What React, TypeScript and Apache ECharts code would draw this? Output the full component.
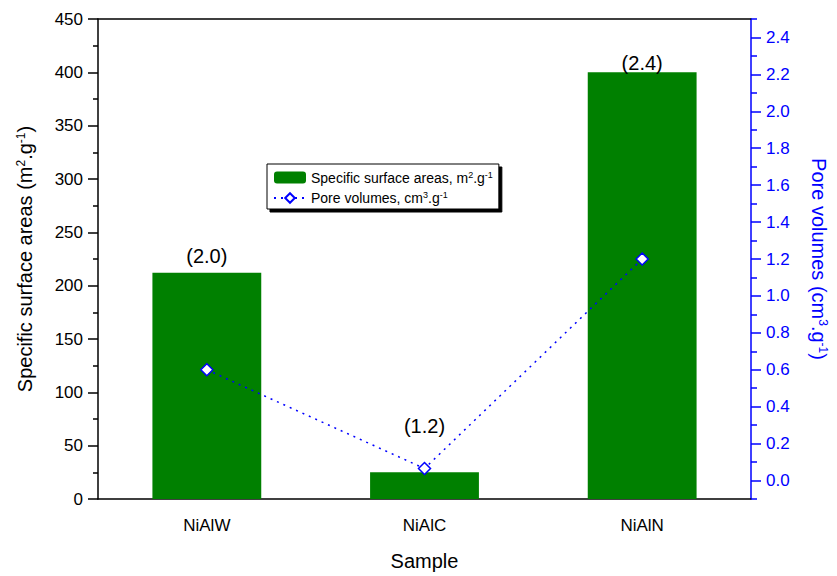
import React, { useEffect, useRef } from "react";
import * as echarts from "echarts";

const categories = ["NiAlW", "NiAlC", "NiAlN"];
const surfaceAreas = [212, 25, 400];
const poreVolumes = [0.6, 0.065, 1.2];
const annotationTexts = ["(2.0)", "(1.2)", "(2.4)"];
const annotationLevels = [228, 68.7, 409];
const leftTicks = [0, 50, 100, 150, 200, 250, 300, 350, 400, 450];
const rightMajor = [0, 0.2, 0.4, 0.6, 0.8, 1.0, 1.2, 1.4, 1.6, 1.8, 2.0, 2.2, 2.4];
const rightMinor = [-0.1, 0.1, 0.3, 0.5, 0.7, 0.9, 1.1, 1.3, 1.5, 1.7, 1.9, 2.1, 2.3, 2.5];

const FONT = "'Liberation Sans', Arial, sans-serif";

export default function App() {
  const ref = useRef<HTMLDivElement>(null);
  useEffect(() => {
    document.body.style.margin = "0";
    document.body.style.overflow = "hidden";
    if (!ref.current) return;
    const chart = echarts.init(ref.current, null, { renderer: "svg" });
    const sup = { fontSize: 12, verticalAlign: "top", fontFamily: FONT };
    chart.setOption({
      animation: false,
      textStyle: { fontFamily: FONT },
      grid: { left: 98, right: 85, top: 19, bottom: 72, containLabel: false },
      legend: {
        show: true,
        left: 267,
        top: 164,
        orient: "vertical",
        itemGap: 6,
        itemWidth: 32,
        itemHeight: 12,
        padding: [6, 6, 4, 6],
        borderColor: "#000",
        borderWidth: 1,
        backgroundColor: "#fff",
        shadowColor: "#000",
        shadowOffsetX: 3,
        shadowOffsetY: 3,
        shadowBlur: 0,
        textStyle: {
          fontSize: 14,
          color: "#000",
          fontFamily: FONT,
          rich: {
            t: { fontSize: 14, color: "#000", fontFamily: FONT },
            sup: { fontSize: 9, verticalAlign: "top", fontFamily: FONT, color: "#000", padding: [0, 0, 6, 0] },
          },
        },
        formatter: (name: string) =>
          name === "surface"
            ? "{t|Specific surface areas, m}{sup|2}{t|.g}{sup|-1}"
            : "{t|Pore volumes, cm}{sup|3}{t|.g}{sup|-1}",
        data: ["surface", "pore"],
      },
      xAxis: [
        {
          type: "category",
          data: categories,
          boundaryGap: true,
          axisLine: { onZero: false, lineStyle: { color: "#000", width: 1.5 } },
          axisTick: { alignWithLabel: true, length: 10, lineStyle: { color: "#000", width: 1.5 } },
          axisLabel: { fontSize: 17, color: "#000", margin: 18, fontFamily: FONT },
          name: "Sample",
          nameLocation: "middle",
          nameGap: 52,
          nameTextStyle: { fontSize: 20, color: "#000", fontFamily: FONT },
          splitLine: { show: false },
        },
        {
          type: "category",
          data: categories,
          position: "bottom",
          boundaryGap: true,
          axisLine: { show: false, onZero: false },
          axisTick: { alignWithLabel: false, length: 6, lineStyle: { color: "#000", width: 1.5 } },
          axisLabel: { show: false },
          splitLine: { show: false },
        },
        {
          type: "category",
          data: categories,
          position: "top",
          axisLine: { show: true, onZero: false, lineStyle: { color: "#000", width: 1.5 } },
          axisTick: { show: false },
          axisLabel: { show: false },
          splitLine: { show: false },
        },
      ],
      yAxis: [
        {
          type: "value",
          min: 0,
          max: 450,
          interval: 50,
          position: "left",
          axisLine: { show: true, onZero: false, lineStyle: { color: "#000", width: 1.5 } },
          axisTick: { show: true, length: 10, lineStyle: { color: "#000", width: 1.5 } },
          minorTick: { show: true, splitNumber: 2, length: 5, lineStyle: { color: "#000", width: 1.5 } },
          axisLabel: {
            fontSize: 17,
            color: "#000",
            margin: 15,
            fontFamily: FONT,
            customValues: leftTicks,
          },
          splitLine: { show: false },
          name: "{t|Specific surface areas (m}{sup|2}{t|.g}{sup|-1}{t|)}",
          nameLocation: "middle",
          nameGap: 63,
          nameTextStyle: {
            fontSize: 20,
            color: "#000",
            fontFamily: FONT,
            rich: {
              t: { fontSize: 20, color: "#000", fontFamily: FONT },
              sup: { ...sup, color: "#000", padding: [0, 0, 8, 0] },
            },
          },
        },
        {
          type: "value",
          min: -0.1,
          max: 2.5,
          position: "right",
          axisLine: { show: true, onZero: false, lineStyle: { color: "#0000ff", width: 1.5 } },
          axisTick: {
            show: true,
            length: 10,
            customValues: rightMajor,
            lineStyle: { color: "#0000ff", width: 1.5 },
          },
          axisLabel: {
            fontSize: 17,
            color: "#0000ff",
            margin: 15,
            fontFamily: FONT,
            customValues: rightMajor,
            formatter: (v: number) => v.toFixed(1),
          },
          splitLine: { show: false },
          name: "{t|Pore volumes (cm}{sup|3}{t|.g}{sup|-1}{t|)}",
          nameLocation: "middle",
          nameRotate: -90,
          nameGap: 58,
          nameTextStyle: {
            fontSize: 20,
            color: "#0000ff",
            fontFamily: FONT,
            rich: {
              t: { fontSize: 20, color: "#0000ff", fontFamily: FONT },
              sup: { ...sup, color: "#0000ff", padding: [0, 0, 8, 0] },
            },
          },
        },
        {
          type: "value",
          min: -0.1,
          max: 2.5,
          position: "right",
          axisLine: { show: false, onZero: false },
          axisTick: {
            show: true,
            length: 6,
            customValues: rightMinor,
            lineStyle: { color: "#0000ff", width: 1.5 },
          },
          axisLabel: { show: false, customValues: rightMinor },
          splitLine: { show: false },
        },
      ],
      series: [
        {
          name: "surface",
          type: "bar",
          xAxisIndex: 0,
          yAxisIndex: 0,
          data: surfaceAreas,
          barWidth: "50%",
          itemStyle: { color: "#008000" },
          z: 2,
        },
        {
          name: "annot",
          type: "scatter",
          xAxisIndex: 0,
          yAxisIndex: 0,
          symbolSize: 0,
          itemStyle: { opacity: 1, color: "#000" },
          data: annotationLevels.map((v, i) => ({ value: [categories[i], v], label: { formatter: annotationTexts[i] } })),
          label: {
            show: true,
            position: "inside",
            fontSize: 20,
            color: "#000",
            opacity: 1,
            fontFamily: FONT,
            textBorderWidth: 0,
          },
          silent: true,
          z: 5,
        },
        {
          name: "pore",
          type: "line",
          xAxisIndex: 0,
          yAxisIndex: 1,
          data: poreVolumes,
          symbol: "diamond",
          symbolSize: 12,
          showAllSymbol: true,
          lineStyle: { color: "#0000ff", width: 1.5, type: [2, 5] },
          itemStyle: { color: "#fff", borderColor: "#0000ff", borderWidth: 1.5 },
          z: 4,
        },
      ],
    });
    return () => chart.dispose();
  }, []);
  return <div ref={ref} style={{ width: 837, height: 576 }} />;
}
